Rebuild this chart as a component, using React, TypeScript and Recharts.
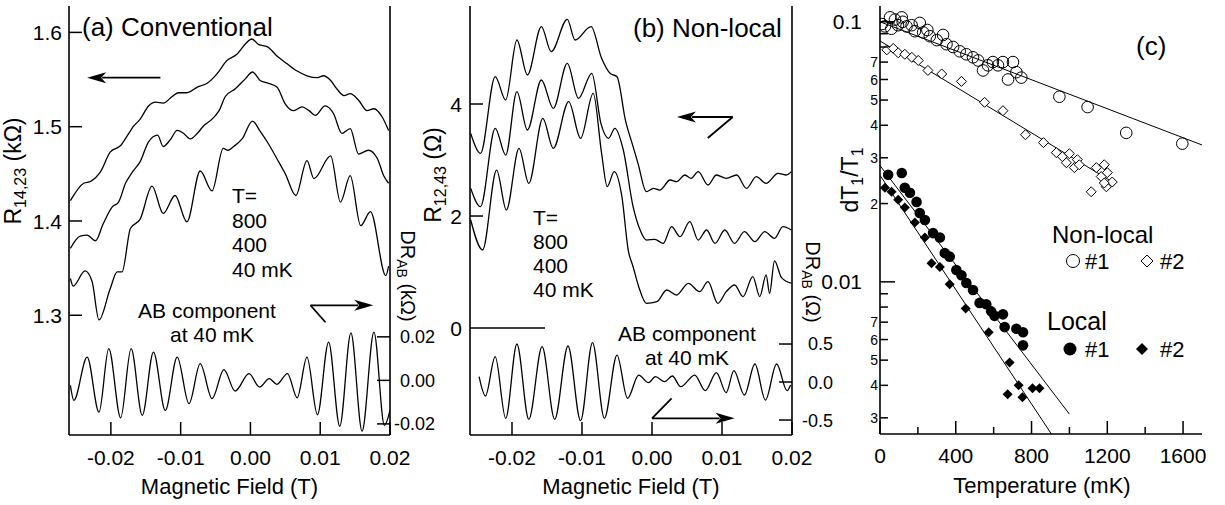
import * as React from "react";
import { LineChart, Line, XAxis, YAxis, ReferenceLine, ComposedChart, Scatter } from "recharts";

const FONT = "'Liberation Sans', Arial, sans-serif";
const INK = "#000";

// ---------- shared magnetic field axis (panels a, b) ----------
const fieldTicks = [-0.02, -0.01, 0, 0.01, 0.02];
const fieldLabels = ["-0.02", "-0.01", "0.00", "0.01", "0.02"];
const fieldDomain: [number, number] = [-0.026, 0.02];
const tempLegend = ["T=", "800", "400", "40 mK"];
const abNote = ["AB component", "at 40 mK"];

// ---------- (a) conventional: R14,23 (kOhm) ----------
const convTicks = [1.3, 1.4, 1.5, 1.6];
const convAbTicks = [-0.02, 0, 0.02];
const convAbLabels = ["-0.02", "0.00", "0.02"];

const conv800 = [
  [-0.0258, 1.4215], [-0.0239, 1.44], [-0.0229, 1.442], [-0.0215, 1.452], [-0.0201, 1.473], [-0.0186, 1.48],
  [-0.0176, 1.491], [-0.0168, 1.5], [-0.0158, 1.508], [-0.0146, 1.522], [-0.0136, 1.526], [-0.0125, 1.525],
  [-0.0112, 1.532], [-0.0103, 1.536], [-0.0091, 1.536], [-0.0076, 1.542], [-0.0062, 1.546], [-0.0048, 1.556],
  [-0.0034, 1.57], [-0.0019, 1.577], [-0.0007, 1.588], [0.0002, 1.593], [0.0012, 1.587], [0.0024, 1.585],
  [0.0038, 1.575], [0.0052, 1.567], [0.0067, 1.559], [0.0081, 1.554], [0.0096, 1.552], [0.0105, 1.554],
  [0.0115, 1.549], [0.0124, 1.54], [0.0134, 1.533], [0.0143, 1.535], [0.0155, 1.528], [0.0167, 1.517],
  [0.0177, 1.519], [0.0189, 1.51], [0.0198, 1.496],
];
const conv400 = [
  [-0.0258, 1.371], [-0.0244, 1.384], [-0.0234, 1.385], [-0.0222, 1.379], [-0.0211, 1.397], [-0.0198, 1.415],
  [-0.0189, 1.42], [-0.0179, 1.44], [-0.0169, 1.452], [-0.0158, 1.463], [-0.0146, 1.484], [-0.0133, 1.491],
  [-0.0125, 1.479], [-0.0115, 1.486], [-0.0105, 1.496], [-0.0096, 1.493], [-0.0086, 1.487], [-0.0076, 1.493],
  [-0.0067, 1.501], [-0.0055, 1.508], [-0.0045, 1.517], [-0.0036, 1.532], [-0.0022, 1.54], [-0.0007, 1.551],
  [0.0003, 1.558], [0.0014, 1.549], [0.0026, 1.546], [0.0038, 1.542], [0.005, 1.524], [0.0062, 1.517],
  [0.0074, 1.521], [0.0084, 1.517], [0.0093, 1.512], [0.0107, 1.522], [0.0119, 1.514], [0.0131, 1.493],
  [0.0143, 1.498], [0.0155, 1.471], [0.0169, 1.475], [0.0182, 1.466], [0.0191, 1.448], [0.0198, 1.44],
];
const conv40 = [
  [-0.0258, 1.339], [-0.0254, 1.331], [-0.0237, 1.347], [-0.0227, 1.336], [-0.0217, 1.295], [-0.0201, 1.328],
  [-0.0191, 1.346], [-0.0184, 1.346], [-0.0172, 1.392], [-0.0158, 1.402], [-0.0141, 1.437], [-0.0125, 1.408],
  [-0.0108, 1.427], [-0.0091, 1.399], [-0.0072, 1.453], [-0.0055, 1.432], [-0.0039, 1.477], [-0.0032, 1.475],
  [-0.0024, 1.479], [-0.0012, 1.487], [0.0003, 1.506], [0.0014, 1.495], [0.0024, 1.484], [0.0038, 1.466],
  [0.005, 1.45], [0.0065, 1.427], [0.0081, 1.464], [0.0091, 1.445], [0.0115, 1.469], [0.0129, 1.42],
  [0.0143, 1.448], [0.0158, 1.395], [0.0172, 1.41], [0.0194, 1.342], [0.0198, 1.352],
];
const convAB = [
  [-0.0258, -0.0023], [-0.0253, -0.0092], [-0.0234, 0.0107], [-0.0217, -0.0146], [-0.0203, 0.0146],
  [-0.0186, -0.0172], [-0.0171, 0.0146], [-0.0155, -0.0161], [-0.0139, 0.013], [-0.0122, -0.0138],
  [-0.0105, 0.0107], [-0.0088, -0.0107], [-0.0072, 0.0077], [-0.0055, -0.0084], [-0.0038, 0.0049],
  [-0.0022, -0.0049], [-0.0002, 0.0031], [0.0013, -0.0031], [0.0027, 0.0008], [0.0038, -0.0018],
  [0.0053, 0.0031], [0.0067, -0.008], [0.0081, 0.0107], [0.0096, -0.0158], [0.0112, 0.0176],
  [0.0128, -0.0211], [0.0144, 0.0218], [0.016, -0.0233], [0.0177, 0.0222], [0.0192, -0.0207], [0.02, -0.0138],
];

// ---------- (b) non-local: R12,43 (Ohm) ----------
const nlTicks = [0, 2, 4];
const nlAbTicks = [-0.5, 0, 0.5];
const nlAbLabels = ["-0.5", "0.0", "0.5"];

const nl800 = [
  [-0.0259, 3.476], [-0.0245, 3.119], [-0.0224, 4.488], [-0.0209, 4.071], [-0.0193, 5.143], [-0.0178, 4.518],
  [-0.0158, 5.381], [-0.0144, 4.934], [-0.0121, 5.512], [-0.011, 5.143], [-0.0087, 5.381], [-0.0072, 4.815],
  [-0.006, 4.548], [-0.005, 4.488], [-0.0038, 3.714], [-0.0027, 3.238], [-0.002, 2.94], [-0.0008, 2.434],
  [0.0002, 2.494], [0.0011, 2.464], [0.0026, 2.643], [0.0035, 2.613], [0.0047, 2.732], [0.0056, 2.673],
  [0.0066, 2.792], [0.008, 2.554], [0.0092, 2.732], [0.0106, 2.673], [0.0121, 2.732], [0.0135, 2.494],
  [0.0149, 2.702], [0.0163, 2.583], [0.018, 2.762], [0.0192, 2.732], [0.0199, 2.792],
];
const nl400 = [
  [-0.0259, 2.494], [-0.0245, 2.166], [-0.0224, 3.566], [-0.0209, 3.089], [-0.0193, 4.22], [-0.0178, 3.536],
  [-0.0158, 4.429], [-0.0141, 3.923], [-0.0121, 4.726], [-0.0105, 4.101], [-0.0086, 4.548], [-0.0073, 3.655],
  [-0.0062, 3.387], [-0.0053, 3.566], [-0.0041, 3.179], [-0.0027, 2.166], [-0.0017, 1.75], [-0.0008, 1.571],
  [0.0004, 1.583], [0.0016, 1.512], [0.0028, 1.81], [0.004, 1.631], [0.0054, 1.899], [0.0066, 1.571],
  [0.0078, 1.75], [0.009, 1.512], [0.0104, 1.75], [0.0118, 1.512], [0.0132, 1.72], [0.0147, 1.542],
  [0.0161, 1.72], [0.0175, 1.601], [0.0187, 1.81], [0.0199, 1.75],
];
const nl40 = [
  [-0.0259, 1.929], [-0.0242, 1.393], [-0.0222, 2.821], [-0.0208, 2.107], [-0.019, 3.208], [-0.0176, 2.583],
  [-0.0156, 3.744], [-0.0141, 3.208], [-0.0119, 4.042], [-0.0102, 3.387], [-0.0084, 4.191], [-0.0072, 3.119],
  [-0.0064, 2.524], [-0.0054, 2.792], [-0.0043, 2.345], [-0.0034, 1.393], [-0.0027, 1.095], [-0.0019, 0.738],
  [-0.0008, 0.44], [0.0007, 0.47], [0.0021, 0.679], [0.0035, 0.589], [0.0052, 0.798], [0.0068, 0.649],
  [0.008, 0.827], [0.0094, 0.44], [0.0106, 0.649], [0.0118, 0.768], [0.013, 0.56], [0.0144, 0.917],
  [0.0154, 0.56], [0.0163, 0.95], [0.0168, 0.62], [0.0175, 1.2], [0.0185, 0.9], [0.0199, 0.8],
];
const nlAB = [
  [-0.0247, 0.07], [-0.0238, -0.184], [-0.0224, 0.333], [-0.0209, -0.478], [-0.0193, 0.5], [-0.0176, -0.491],
  [-0.0157, 0.465], [-0.0139, -0.491], [-0.012, 0.474], [-0.0102, -0.509], [-0.0085, 0.518], [-0.0068, -0.478],
  [-0.005, 0.355], [-0.0035, -0.215], [-0.0019, 0.092], [-0.0005, -0.009], [0.0005, 0.07], [0.0018, 0.004],
  [0.0029, 0.079], [0.0041, -0.061], [0.0061, 0.092], [0.0076, -0.114], [0.0092, 0.123], [0.0106, -0.14],
  [0.0117, 0.149], [0.0132, -0.171], [0.0147, 0.237], [0.0162, -0.237], [0.0178, 0.237], [0.0193, -0.114],
  [0.0198, -0.04],
];

// ---------- (c) dT1/T1 vs temperature ----------
const tempTicks = [0, 200, 400, 600, 800, 1000, 1200, 1400, 1600];
const ratioTicks = [0.003, 0.004, 0.005, 0.006, 0.007, 0.008, 0.009, 0.01, 0.02, 0.03, 0.04, 0.05, 0.06, 0.07, 0.08, 0.09, 0.1];

const nonLocal1 = [
  [10, 0.098], [26, 0.096], [53, 0.104], [60, 0.094], [79, 0.102], [95, 0.097], [115, 0.104], [120, 0.1],
  [140, 0.096], [167, 0.097], [184, 0.092], [210, 0.099], [228, 0.091], [250, 0.093], [263, 0.088], [300, 0.085],
  [333, 0.089], [351, 0.082], [386, 0.08], [421, 0.077], [456, 0.075], [491, 0.073], [518, 0.071], [544, 0.065],
  [570, 0.068], [596, 0.07], [623, 0.068], [649, 0.07], [676, 0.06], [702, 0.07], [720, 0.064], [746, 0.061],
  [947, 0.0515], [1096, 0.047], [1300, 0.0374], [1596, 0.034],
];
const nonLocal2 = [
  [36, 0.078], [70, 0.079], [96, 0.076], [131, 0.075], [168, 0.073], [202, 0.071], [253, 0.065], [326, 0.063],
  [430, 0.059], [552, 0.049], [649, 0.0455], [768, 0.0368], [863, 0.0343], [931, 0.0314], [963, 0.0303],
  [1000, 0.0311], [984, 0.0287], [1026, 0.0275], [1042, 0.0295], [1052, 0.0282], [1115, 0.0222], [1142, 0.0275],
  [1184, 0.0282], [1168, 0.0254], [1200, 0.0263], [1195, 0.0232], [1226, 0.0242], [1184, 0.024],
];
const local1 = [
  [43, 0.0258], [115, 0.0262], [131, 0.023], [158, 0.022], [193, 0.0203], [210, 0.0184], [237, 0.0173],
  [280, 0.0154], [316, 0.0148], [342, 0.0129], [368, 0.0125], [403, 0.0111], [430, 0.0106], [456, 0.0099],
  [491, 0.0093], [526, 0.0083], [561, 0.0082], [587, 0.0077], [605, 0.0074], [649, 0.0075], [658, 0.0067],
  [720, 0.0066], [755, 0.0064], [755, 0.0057],
];
const local2 = [
  [26, 0.023], [61, 0.0222], [96, 0.0207], [131, 0.0193], [184, 0.0169], [237, 0.0148], [272, 0.0118],
  [316, 0.0114], [368, 0.0098], [452, 0.0079], [574, 0.0064], [684, 0.0049], [674, 0.0037], [732, 0.004],
  [752, 0.0036], [805, 0.0039], [842, 0.0039],
];
// exponential fits (straight on the log axis)
const fitNonLocal1 = [[0, 0.1], [1700, 0.0336]];
const fitNonLocal2 = [[0, 0.0844], [1240, 0.0239]];
const fitLocal1 = [[0, 0.028], [1000, 0.0031]];
const fitLocal2 = [[0, 0.0257], [905, 0.0026]];

const fieldRows = (rows: number[][]) => rows.map(([B, v]) => ({ B, v }));
const tempRows = (rows: number[][]) => rows.map(([T, v]) => ({ T, v }));

// ---------- ticks drawn inward, labels outside ----------
type TickCfg = {
  side: "left" | "right" | "bottom";
  len: (v: number) => number;
  text: (v: number) => string;
  size: (v: number) => number;
  gap: (v: number) => number;
};
const makeTick = (c: TickCfg) => (p: any) => {
  const v = p.payload.value as number;
  const { x, y } = p;
  const L = c.len(v);
  const fs = c.size(v);
  if (c.side === "bottom") {
    return (
      <g>
        <line x1={x} y1={y} x2={x} y2={y - L} stroke={INK} strokeWidth={1.5} />
        <text x={x} y={y + c.gap(v)} textAnchor="middle" fontSize={fs} fontFamily={FONT} fill={INK}>{c.text(v)}</text>
      </g>
    );
  }
  const dir = c.side === "left" ? 1 : -1;
  return (
    <g>
      <line x1={x} y1={y} x2={x + dir * L} y2={y} stroke={INK} strokeWidth={1.5} />
      <text x={c.side === "left" ? x - c.gap(v) : x + c.gap(v)} y={y + fs * 0.36} textAnchor="end"
        fontSize={fs} fontFamily={FONT} fill={INK}>{c.text(v)}</text>
    </g>
  );
};

const fieldTick = makeTick({
  side: "bottom", len: () => 13, size: () => 21, gap: () => 30,
  text: (v) => fieldLabels[fieldTicks.findIndex((t) => Math.abs(t - v) < 1e-9)] ?? "",
});

const digitOf = (v: number) => Math.round(v / Math.pow(10, Math.floor(Math.log10(v) + 1e-9)));
const isDecade = (v: number) => digitOf(v) === 1;

// arrow annotation drawn through ReferenceLine segments
const arrowShape = (head: boolean) => (p: any) => {
  const { x1, y1, x2, y2 } = p;
  const dx = x2 - x1, dy = y2 - y1;
  const d = Math.hypot(dx, dy) || 1;
  const ux = dx / d, uy = dy / d;
  const L = 19, W = 5.5;
  const bx = x2 - ux * L, by = y2 - uy * L;
  return (
    <g>
      <line x1={x1} y1={y1} x2={head ? bx + ux * 4 : x2} y2={head ? by + uy * 4 : y2} stroke={INK} strokeWidth={1.8} />
      {head && (
        <polygon points={`${x2},${y2} ${bx - uy * W},${by + ux * W} ${bx + ux * 5},${by + uy * 5} ${bx + uy * W},${by - ux * W}`} fill={INK} />
      )}
    </g>
  );
};

const axisLine = { stroke: INK, strokeWidth: 1.6 };
const curve = { stroke: INK, strokeWidth: 1.3, dot: false, isAnimationActive: false, type: "monotone" as const };

const PanelA = () => (
  <LineChart width={440} height={505} margin={{ top: 6, right: 10, bottom: 20, left: 10 }}>
    <XAxis dataKey="B" type="number" domain={fieldDomain} ticks={fieldTicks} interval={0} allowDataOverflow
      height={50} tickSize={0} tickMargin={0} tick={fieldTick} tickLine={false} axisLine={axisLine} />
    <XAxis xAxisId="top" orientation="top" type="number" domain={[0, 1]} height={0} tick={false} tickLine={false} axisLine={axisLine} />
    <YAxis yAxisId="l" type="number" domain={[1.173, 1.628]} ticks={convTicks} interval={0} allowDataOverflow width={59}
      tickSize={0} tickMargin={0} tickLine={false} axisLine={axisLine}
      tick={makeTick({ side: "left", len: () => 13, size: () => 21, gap: () => 7, text: (v) => v.toFixed(1) })} />
    <YAxis yAxisId="r" orientation="right" type="number" domain={[-0.0251, 0.172]} ticks={convAbTicks} interval={0}
      allowDataOverflow width={40} tickSize={0} tickMargin={0} tickLine={false} axisLine={axisLine}
      tick={makeTick({ side: "right", len: () => 13, size: () => 18, gap: () => 45,
        text: (v) => convAbLabels[convAbTicks.findIndex((t) => Math.abs(t - v) < 1e-9)] ?? "" })} />
    <Line yAxisId="l" data={fieldRows(conv800)} dataKey="v" {...curve} />
    <Line yAxisId="l" data={fieldRows(conv400)} dataKey="v" {...curve} />
    <Line yAxisId="l" data={fieldRows(conv40)} dataKey="v" {...curve} />
    <Line yAxisId="r" data={fieldRows(convAB)} dataKey="v" {...curve} />
    <ReferenceLine yAxisId="l" ifOverflow="visible" segment={[{ x: -0.0129, y: 1.552 }, { x: -0.0234, y: 1.552 }]} shape={arrowShape(true)} />
    <ReferenceLine yAxisId="r" ifOverflow="visible" segment={[{ x: 0.01075, y: 0.0267 }, { x: 0.0086, y: 0.0345 }]} shape={arrowShape(false)} />
    <ReferenceLine yAxisId="r" ifOverflow="visible" segment={[{ x: 0.0086, y: 0.0345 }, { x: 0.0176, y: 0.0345 }]} shape={arrowShape(true)} />
  </LineChart>
);

const PanelB = () => (
  <LineChart width={420} height={505} margin={{ top: 6, right: 10, bottom: 20, left: 10 }}>
    <XAxis dataKey="B" type="number" domain={fieldDomain} ticks={fieldTicks} interval={0} allowDataOverflow
      height={50} tickSize={0} tickMargin={0} tick={fieldTick} tickLine={false} axisLine={axisLine} />
    <XAxis xAxisId="top" orientation="top" type="number" domain={[0, 1]} height={0} tick={false} tickLine={false} axisLine={axisLine} />
    <YAxis yAxisId="l" type="number" domain={[-1.91, 5.75]} ticks={nlTicks} interval={0} allowDataOverflow width={30}
      tickSize={0} tickMargin={0} tickLine={false} axisLine={axisLine}
      tick={makeTick({ side: "left", len: (v) => (v === 0 ? 75 : 13), size: () => 21, gap: () => 8, text: (v) => String(v) })} />
    <YAxis yAxisId="r" orientation="right" type="number" domain={[-0.697, 4.947]} ticks={nlAbTicks} interval={0}
      allowDataOverflow width={48} tickSize={0} tickMargin={0} tickLine={false} axisLine={axisLine}
      tick={makeTick({ side: "right", len: () => 13, size: () => 18, gap: () => 41,
        text: (v) => nlAbLabels[nlAbTicks.findIndex((t) => Math.abs(t - v) < 1e-9)] ?? "" })} />
    <Line yAxisId="l" data={fieldRows(nl800)} dataKey="v" {...curve} />
    <Line yAxisId="l" data={fieldRows(nl400)} dataKey="v" {...curve} />
    <Line yAxisId="l" data={fieldRows(nl40)} dataKey="v" {...curve} />
    <Line yAxisId="r" data={fieldRows(nlAB)} dataKey="v" {...curve} />
    <ReferenceLine yAxisId="l" ifOverflow="visible" segment={[{ x: 0.01153, y: 3.768 }, { x: 0.00356, y: 3.768 }]} shape={arrowShape(true)} />
    <ReferenceLine yAxisId="l" ifOverflow="visible" segment={[{ x: 0.00797, y: 3.393 }, { x: 0.01153, y: 3.768 }]} shape={arrowShape(false)} />
    <ReferenceLine yAxisId="r" ifOverflow="visible" segment={[{ x: 0.0028, y: -0.214 }, { x: 0, y: -0.478 }]} shape={arrowShape(false)} />
    <ReferenceLine yAxisId="r" ifOverflow="visible" segment={[{ x: 0, y: -0.478 }, { x: 0.0118, y: -0.478 }]} shape={arrowShape(true)} />
  </LineChart>
);

const openCircle = (p: any) => <circle cx={p.cx} cy={p.cy} r={5.8} fill="none" stroke={INK} strokeWidth={1} />;
const openDiamond = (p: any) => (
  <polygon points={`${p.cx},${p.cy - 5} ${p.cx + 5},${p.cy} ${p.cx},${p.cy + 5} ${p.cx - 5},${p.cy}`} fill="#fff" stroke={INK} strokeWidth={1} />
);
const dotFilled = (p: any) => <circle cx={p.cx} cy={p.cy} r={5.3} fill={INK} />;
const diamondFilled = (p: any) => (
  <polygon points={`${p.cx},${p.cy - 5} ${p.cx + 5},${p.cy} ${p.cx},${p.cy + 5} ${p.cx - 5},${p.cy}`} fill={INK} />
);
const fit = { stroke: INK, strokeWidth: 1, dot: false, isAnimationActive: false, type: "linear" as const };

const PanelC = () => (
  <ComposedChart width={405} height={505} margin={{ top: 6, right: 23, bottom: 21, left: 10 }}>
    <XAxis dataKey="T" type="number" domain={[0, 1700]} ticks={tempTicks} interval={0} allowDataOverflow
      height={50} tickSize={0} tickMargin={0} tickLine={false} axisLine={axisLine}
      tick={makeTick({ side: "bottom", len: (v) => (v % 400 === 0 ? 13 : 7), size: () => 21, gap: () => 29,
        text: (v) => (v % 400 === 0 ? String(v) : "") })} />
    <XAxis xAxisId="top" orientation="top" type="number" domain={[0, 1]} height={0} tick={false} tickLine={false} axisLine={axisLine} />
    <YAxis dataKey="v" type="number" scale="log" domain={[0.0026, 0.115]} ticks={ratioTicks} interval={0} allowDataOverflow
      width={50} tickSize={0} tickMargin={0} tickLine={false} axisLine={axisLine}
      tick={makeTick({
        side: "left",
        len: (v) => (isDecade(v) ? 15 : 8),
        size: (v) => (isDecade(v) ? 21 : 14),
        gap: (v) => (isDecade(v) ? 18 : 2),
        text: (v) => (v >= 0.095 ? "0.1" : isDecade(v) ? "0.01" : digitOf(v) <= 7 ? String(digitOf(v)) : ""),
      })} />
    <YAxis yAxisId="box" orientation="right" type="number" domain={[0, 1]} width={0} tick={false} tickLine={false} axisLine={axisLine} />
    <Line data={tempRows(fitNonLocal1)} dataKey="v" {...fit} />
    <Line data={tempRows(fitNonLocal2)} dataKey="v" {...fit} />
    <Line data={tempRows(fitLocal1)} dataKey="v" {...fit} />
    <Line data={tempRows(fitLocal2)} dataKey="v" {...fit} />
    <Scatter data={tempRows(nonLocal2)} dataKey="v" shape={openDiamond} isAnimationActive={false} />
    <Scatter data={tempRows(nonLocal1)} dataKey="v" shape={openCircle} isAnimationActive={false} />
    <Scatter data={tempRows(local1)} dataKey="v" shape={dotFilled} isAnimationActive={false} />
    <Scatter data={tempRows(local2)} dataKey="v" shape={diamondFilled} isAnimationActive={false} />
  </ComposedChart>
);

const Overlay = () => (
  <svg width={1225} height={505} style={{ position: "absolute", left: 0, top: 0, pointerEvents: "none" }}
    fontFamily={FONT} fill={INK}>
    <text x={82} y={36} fontSize={26}>(a) Conventional</text>
    <text x={633} y={37} fontSize={26}>(b) Non-local</text>
    <text x={1136} y={55} fontSize={26}>(c)</text>

    <text fontSize={21}>
      {tempLegend.map((t, i) => <tspan key={i} x={232} y={203 + i * 24.5}>{t}</tspan>)}
    </text>
    <text fontSize={21}>
      {tempLegend.map((t, i) => <tspan key={i} x={533} y={225 + i * 24}>{t}</tspan>)}
    </text>

    <text fontSize={21} textAnchor="middle">
      <tspan x={207} y={318}>{abNote[0]}</tspan>
      <tspan x={212} y={342}>{abNote[1]}</tspan>
    </text>
    <text fontSize={21} textAnchor="middle">
      <tspan x={687} y={341}>{abNote[0]}</tspan>
      <tspan x={687} y={365}>{abNote[1]}</tspan>
    </text>

    <text x={229.5} y={494} fontSize={22} textAnchor="middle">Magnetic Field (T)</text>
    <text x={631} y={494} fontSize={22} textAnchor="middle">Magnetic Field (T)</text>
    <text x={1042} y={493} fontSize={22} textAnchor="middle">Temperature (mK)</text>

    <text transform="translate(21,171) rotate(-90)" fontSize={23} textAnchor="middle">
      <tspan>R</tspan><tspan fontSize={16} dy={5}>14,23</tspan><tspan dy={-5}> (kΩ)</tspan>
    </text>
    <text transform="translate(441,175) rotate(-90)" fontSize={23} textAnchor="middle">
      <tspan>R</tspan><tspan fontSize={16} dy={5}>12,43</tspan><tspan dy={-5}> (Ω)</tspan>
    </text>
    <text transform="translate(401,276) rotate(90)" fontSize={20} textAnchor="middle">
      <tspan>DR</tspan><tspan fontSize={14} dy={4}>AB</tspan><tspan dy={-4}> (kΩ)</tspan>
    </text>
    <text transform="translate(806,282) rotate(90)" fontSize={20} textAnchor="middle">
      <tspan>DR</tspan><tspan fontSize={14} dy={4}>AB</tspan><tspan dy={-4}> (Ω)</tspan>
    </text>
    <text transform="translate(858,180) rotate(-90)" fontSize={23} textAnchor="middle">
      <tspan>dT</tspan><tspan fontSize={16} dy={5}>1</tspan><tspan dy={-5}>/T</tspan><tspan fontSize={16} dy={5}>1</tspan>
    </text>

    <circle cx={1073} cy={261} r={6.5} fill="none" stroke={INK} strokeWidth={1} />
    <polygon points="1147,255 1153,261 1147,267 1141,261" fill="none" stroke={INK} strokeWidth={1} />
    <circle cx={1070} cy={349} r={6.5} fill={INK} />
    <polygon points="1142,343 1148,349 1142,355 1136,349" fill={INK} />
    <text fontSize={24}>
      <tspan x={1052} y={243}>Non-local</tspan>
      <tspan x={1085} y={268.5} fontSize={22}>#1</tspan>
      <tspan x={1160} y={268.5} fontSize={22}>#2</tspan>
      <tspan x={1047} y={330} fontSize={25}>Local</tspan>
      <tspan x={1085} y={357} fontSize={22}>#1</tspan>
      <tspan x={1160} y={357} fontSize={22}>#2</tspan>
    </text>
  </svg>
);

export default function App() {
  return (
    <div style={{ position: "absolute", left: 0, top: 0, width: 1225, height: 505, background: "#fff", overflow: "hidden" }}>
      <div style={{ position: "absolute", left: 0, top: 0 }}><PanelA /></div>
      <div style={{ position: "absolute", left: 430, top: 0 }}><PanelB /></div>
      <div style={{ position: "absolute", left: 820, top: 0 }}><PanelC /></div>
      <Overlay />
    </div>
  );
}
